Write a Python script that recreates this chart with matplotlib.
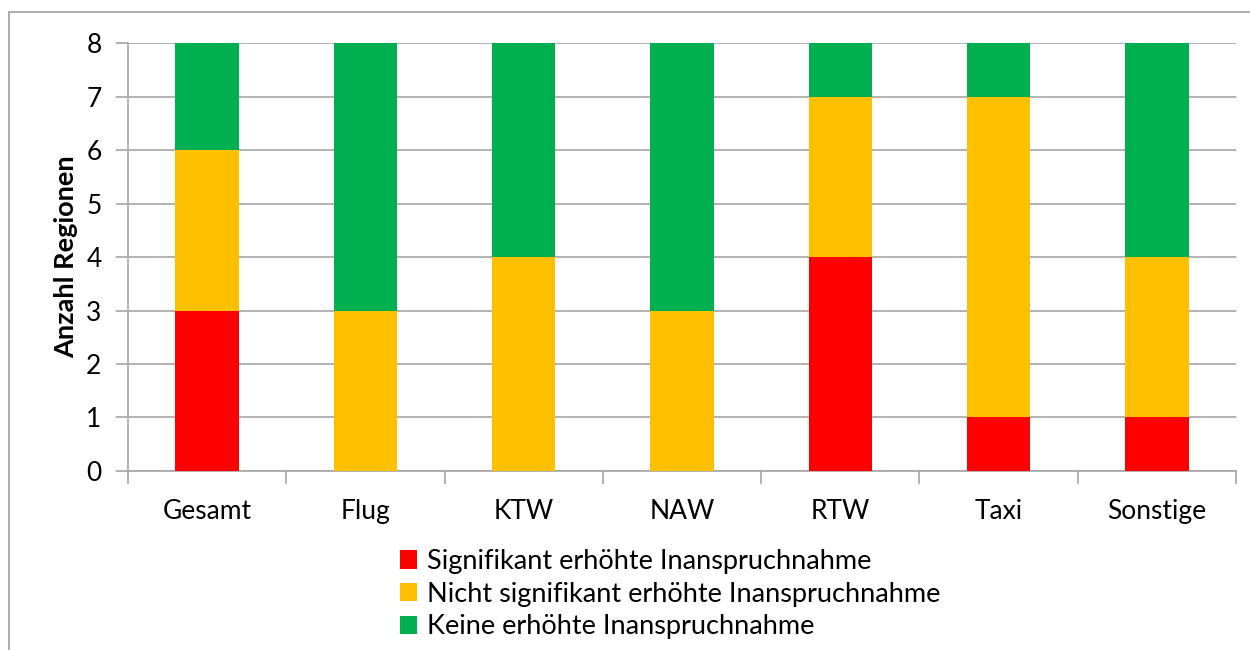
import matplotlib.pyplot as plt
from matplotlib.patches import Rectangle
import numpy as np

plt.rcParams['font.family'] = ['Lato', 'DejaVu Sans']

categories = ['Gesamt', 'Flug', 'KTW', 'NAW', 'RTW', 'Taxi', 'Sonstige']
signifikant = [3, 0, 0, 0, 4, 1, 1]
nicht_signifikant = [3, 3, 4, 3, 3, 6, 3]
keine = [2, 5, 4, 5, 1, 1, 4]

series = [
    ('Signifikant erhöhte Inanspruchnahme', signifikant, '#ff0000'),
    ('Nicht signifikant erhöhte Inanspruchnahme', nicht_signifikant, '#ffc000'),
    ('Keine erhöhte Inanspruchnahme', keine, '#00b050'),
]

fig = plt.figure(figsize=(12.5, 6.5), dpi=100)
ax = fig.add_axes([0.1024, 0.2754, 0.8864, 0.6584])

x = np.arange(len(categories))
bottom = np.zeros(len(categories))
for label, vals, color in series:
    ax.bar(x, vals, width=0.4, bottom=bottom, color=color, label=label, zorder=3)
    bottom += np.array(vals)

grid_col = '#a6a6a6'
ax.set_xlim(-0.5, len(categories) - 0.5)
ax.set_ylim(0, 8)
ax.set_yticks(range(0, 9))
ax.yaxis.grid(True, color=grid_col, linewidth=1.2, zorder=0)
ax.set_xticks(x)
ax.set_xticklabels(categories, fontsize=19)
ax.set_xticks(np.arange(-0.5, len(categories)), minor=True)
ax.tick_params(axis='x', which='major', length=0, pad=20)
ax.tick_params(axis='x', which='minor', length=9, color=grid_col, width=1.2)
ax.tick_params(axis='y', length=9, color=grid_col, width=1.2, labelsize=19, pad=10)
for s in ['top', 'right']:
    ax.spines[s].set_visible(False)
for s in ['left', 'bottom']:
    ax.spines[s].set_color(grid_col)
    ax.spines[s].set_linewidth(1.2)
ax.set_ylabel('Anzahl Regionen', fontsize=19.5, fontweight='bold', labelpad=6)

fig.legend(loc='upper left', bbox_to_anchor=(0.311, 0.172), frameon=False,
           fontsize=19.5, handlelength=0.65, handleheight=0.65, handletextpad=0.35,
           labelspacing=0.28, borderaxespad=0)

fig.patches.append(Rectangle((9 / 1250, -0.05), 1.1, 1 - 12 / 650 + 0.05,
                             transform=fig.transFigure, fill=False,
                             edgecolor='#9e9e9e', linewidth=1.2))

fig.savefig('out.png', dpi=100)
